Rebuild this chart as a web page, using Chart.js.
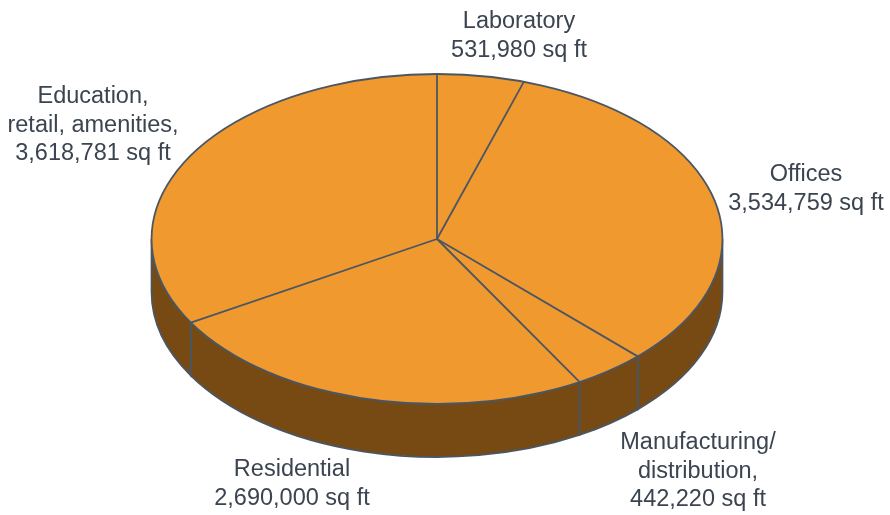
<!DOCTYPE html>
<html>
<head>
<meta charset="utf-8">
<script src="https://cdn.jsdelivr.net/npm/chart.js@4.4.1/dist/chart.umd.min.js"></script>
<style>
  html, body { margin: 0; padding: 0; background: #fff; }
  #wrap { width: 890px; height: 515px; }
</style>
</head>
<body>
<div id="wrap"><canvas id="pie" width="890" height="515"></canvas></div>
<script>
// data, clockwise from 12 o'clock
const categories = [
    ['Laboratory'],
    ['Offices'],
    ['Manufacturing/', 'distribution,'],
    ['Residential'],
    ['Education,', 'retail, amenities,']
];
const areas = [531980, 3534759, 442220, 2690000, 3618781];
const unit = 'sq ft';

// where each label block sits (centre x, middle of first line)
const labelSpots = [[519, 22], [806, 175], [698, 443], [292, 470], [93, 97]];

const topColor = '#f0992f';
const wallColor = '#784a13';
const lineColor = '#4b5663';
const stretch = 1.73;   // horizontal stretch of the round pie
const depth = 53;       // thickness of the wall

function arcGeom(chart) {
    const arcs = chart.getDatasetMeta(0).data;
    const a = arcs[0];
    return { arcs, cx: a.x, cy: a.y, r: a.outerRadius, rx: a.outerRadius * stretch };
}

const tiltPlugin = {
    id: 'tilt',
    beforeDatasetsDraw(chart) {
        const ctx = chart.ctx;
        const g = arcGeom(chart);
        // side wall, only the front half (0..PI) is visible
        ctx.save();
        ctx.fillStyle = wallColor;
        ctx.strokeStyle = lineColor;
        ctx.lineWidth = 1.8;
        g.arcs.forEach(arc => {
            [[0, Math.PI], [2 * Math.PI, 3 * Math.PI]].forEach(([lo, hi]) => {
                const s = Math.max(arc.startAngle, lo);
                const e = Math.min(arc.endAngle, hi);
                if (e <= s) return;
                ctx.beginPath();
                ctx.ellipse(g.cx, g.cy, g.rx, g.r, 0, s, e);
                ctx.ellipse(g.cx, g.cy + depth, g.rx, g.r, 0, e, s, true);
                ctx.closePath();
                ctx.fill();
                ctx.stroke();
            });
        });
        ctx.restore();
        // squash the top face
        ctx.save();
        ctx.translate(g.cx, g.cy);
        ctx.scale(stretch, 1);
        ctx.translate(-g.cx, -g.cy);
    },
    afterDatasetsDraw(chart) {
        const ctx = chart.ctx;
        ctx.restore();
        const g = arcGeom(chart);
        ctx.save();
        ctx.strokeStyle = lineColor;
        ctx.lineWidth = 1.8;
        g.arcs.forEach(arc => {
            ctx.beginPath();
            ctx.moveTo(g.cx, g.cy);
            ctx.lineTo(g.cx + g.rx * Math.cos(arc.startAngle), g.cy + g.r * Math.sin(arc.startAngle));
            ctx.stroke();
        });
        ctx.beginPath();
        ctx.ellipse(g.cx, g.cy, g.rx, g.r, 0, 0, 2 * Math.PI);
        ctx.stroke();
        ctx.restore();
    },
    afterDraw(chart) {
        const ctx = chart.ctx;
        ctx.save();
        ctx.fillStyle = '#3b4450';
        ctx.font = '23.5px "Liberation Sans", Arial, sans-serif';
        ctx.textAlign = 'center';
        ctx.textBaseline = 'middle';
        categories.forEach((lines, i) => {
            const text = lines.concat([areas[i].toLocaleString('en-US') + ' ' + unit]);
            const [x, y] = labelSpots[i];
            text.forEach((t, k) => ctx.fillText(t, x, y + k * 28.5));
        });
        ctx.restore();
    }
};

new Chart(document.getElementById('pie'), {
    type: 'pie',
    data: {
        labels: categories.map(l => l.join(' ')),
        datasets: [{
            data: areas,
            backgroundColor: topColor,
            borderWidth: 0
        }]
    },
    options: {
        responsive: false,
        animation: false,
        events: [],
        layout: { padding: { top: 74, bottom: 111, left: 151, right: 167 } },
        plugins: {
            legend: { display: false },
            tooltip: { enabled: false }
        }
    },
    plugins: [tiltPlugin]
});
</script>
</body>
</html>
